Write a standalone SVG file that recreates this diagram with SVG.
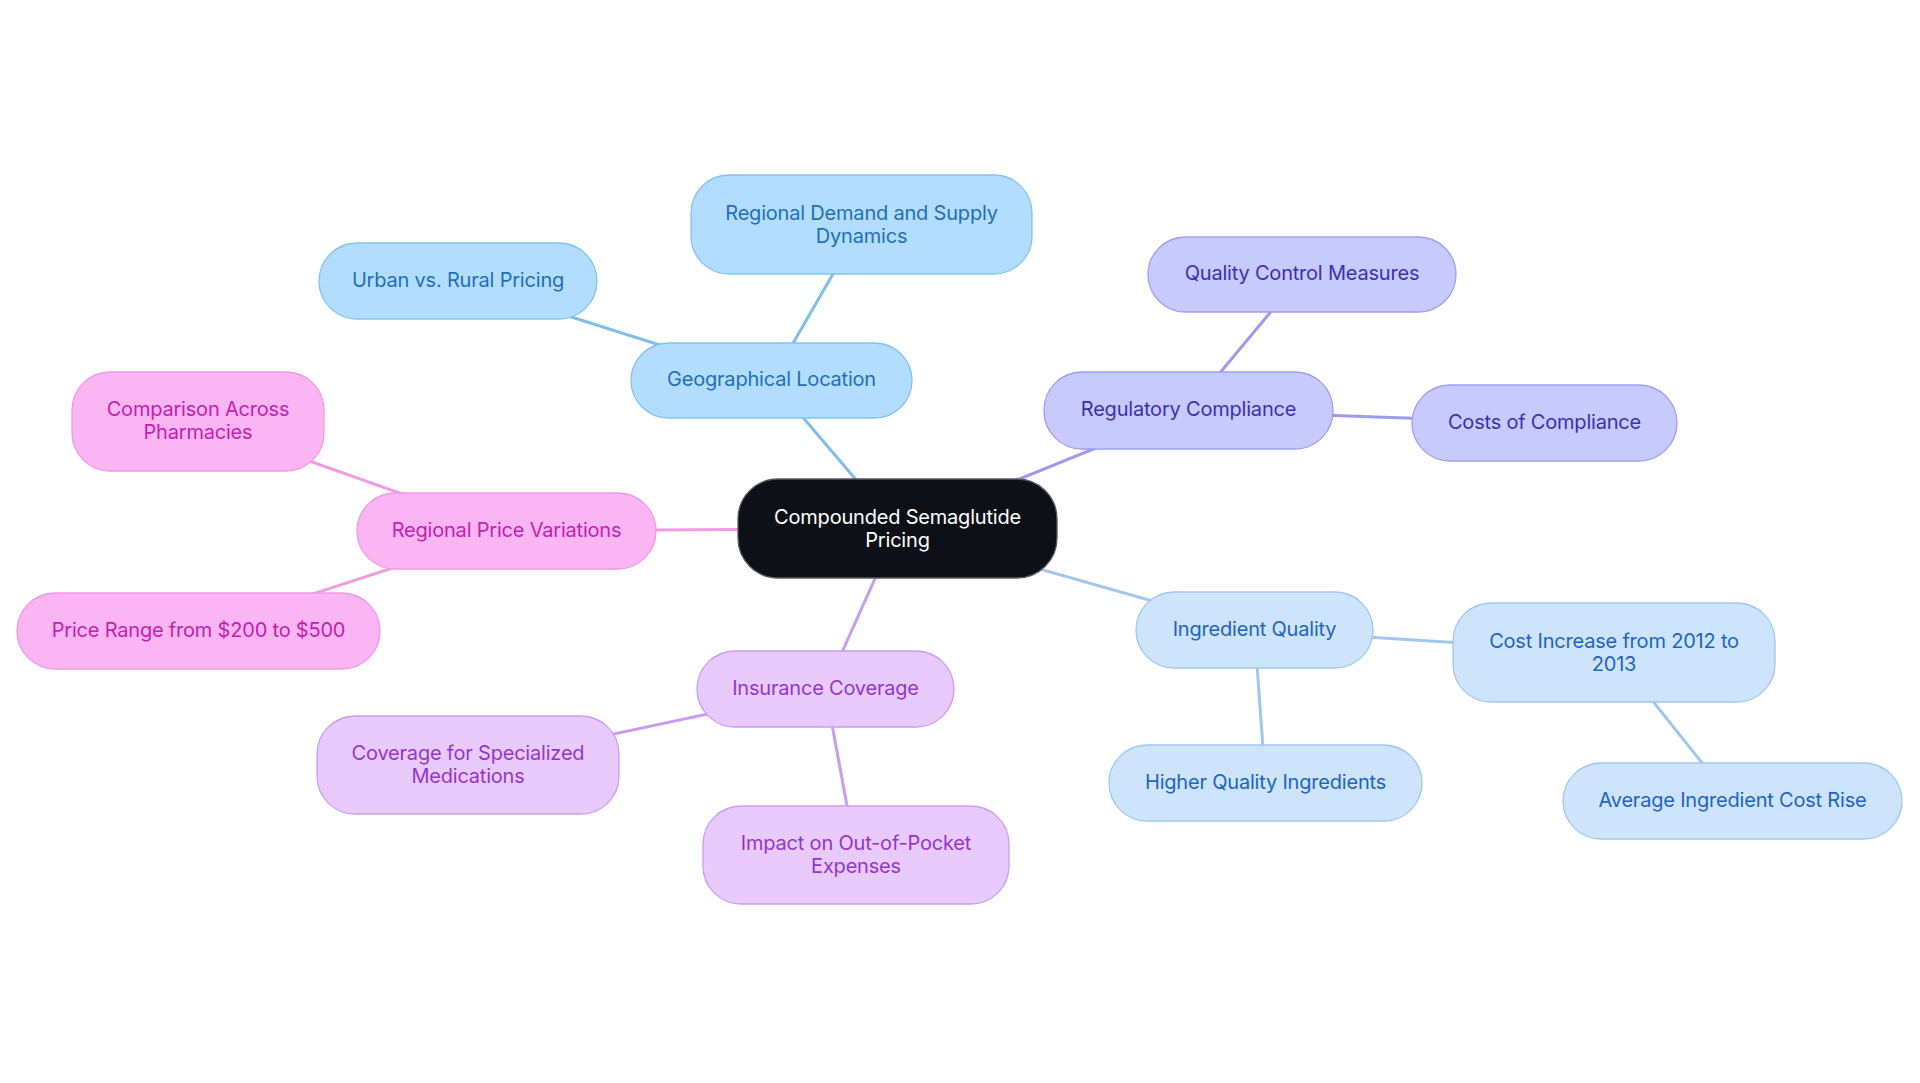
<svg xmlns="http://www.w3.org/2000/svg" width="1920" height="1083" viewBox="0 0 1920 1083">
<style>
text{font-family:Inter,"Liberation Sans",sans-serif;font-size:20px;text-anchor:middle;letter-spacing:-0.2px}
.n rect{stroke-width:1.3}
.root rect{fill:#0d1117;stroke:#55595f}
.root text{fill:#ffffff}
.blue rect{fill:#b3ddfc;stroke:#84c2ee}
.blue text{fill:#1f70b6}
.purple rect{fill:#c8c9fc;stroke:#9e9ef0}
.purple text{fill:#3a31b2}
.pink rect{fill:#fbb5f3;stroke:#f099e3}
.pink text{fill:#c420b2}
.lav rect{fill:#e8cafc;stroke:#cb9cf0}
.lav text{fill:#9536c9}
.lb rect{fill:#cde4fb;stroke:#a2c6ef}
.lb text{fill:#1d65bf}
#edges line{stroke-width:3;stroke-linecap:round}
.eb{stroke:#80bde9}
.ep{stroke:#9e9bea}
.ek{stroke:#f09ce2}
.el{stroke:#c99cee}
.ec{stroke:#a2c6ee}
</style>
<rect width="1920" height="1083" fill="#ffffff"/>
<g id="edges">
<line class="eb" x1="897.5" y1="528.5" x2="771.5" y2="380.5"/>
<line class="eb" x1="771.5" y1="380.5" x2="861.5" y2="224.5"/>
<line class="eb" x1="771.5" y1="380.5" x2="458" y2="281"/>
<line class="ep" x1="897.5" y1="528.5" x2="1188.5" y2="410.5"/>
<line class="ep" x1="1188.5" y1="410.5" x2="1302" y2="274.5"/>
<line class="ep" x1="1188.5" y1="410.5" x2="1544.5" y2="423"/>
<line class="ek" x1="897.5" y1="528.5" x2="506.5" y2="531"/>
<line class="ek" x1="506.5" y1="531" x2="198" y2="421.5"/>
<line class="ek" x1="506.5" y1="531" x2="198.5" y2="631"/>
<line class="el" x1="897.5" y1="528.5" x2="825.5" y2="689"/>
<line class="el" x1="825.5" y1="689" x2="468" y2="765"/>
<line class="el" x1="825.5" y1="689" x2="856" y2="855"/>
<line class="ec" x1="897.5" y1="528.5" x2="1254.5" y2="630"/>
<line class="ec" x1="1254.5" y1="630" x2="1614" y2="652.5"/>
<line class="ec" x1="1254.5" y1="630" x2="1265.5" y2="783"/>
<line class="ec" x1="1614" y1="652.5" x2="1732.5" y2="801"/>
</g>
<g id="root" class="n root">
<rect x="738" y="479" width="319" height="99" rx="40"/>
<text x="897.5" y="524">Compounded Semaglutide</text>
<text x="897.5" y="547">Pricing</text>
</g>
<g id="geo" class="n blue">
<rect x="631" y="343" width="281" height="75" rx="37.5"/>
<text x="771.5" y="386">Geographical Location</text>
</g>
<g id="demand" class="n blue">
<rect x="691" y="175" width="341" height="99" rx="38"/>
<text x="861.5" y="220">Regional Demand and Supply</text>
<text x="861.5" y="243">Dynamics</text>
</g>
<g id="urban" class="n blue">
<rect x="319" y="243" width="278" height="76" rx="38"/>
<text x="458" y="286.5">Urban vs. Rural Pricing</text>
</g>
<g id="reg" class="n purple">
<rect x="1044" y="372" width="289" height="77" rx="38"/>
<text x="1188.5" y="416">Regulatory Compliance</text>
</g>
<g id="qc" class="n purple">
<rect x="1148" y="237" width="308" height="75" rx="37.5"/>
<text x="1302" y="280">Quality Control Measures</text>
</g>
<g id="coc" class="n purple">
<rect x="1412" y="385" width="265" height="76" rx="38"/>
<text x="1544.5" y="428.5">Costs of Compliance</text>
</g>
<g id="rpv" class="n pink">
<rect x="357" y="493" width="299" height="76" rx="38"/>
<text x="506.5" y="536.5">Regional Price Variations</text>
</g>
<g id="cap" class="n pink">
<rect x="72" y="372" width="252" height="99" rx="38"/>
<text x="198" y="416">Comparison Across</text>
<text x="198" y="439">Pharmacies</text>
</g>
<g id="pr" class="n pink">
<rect x="17" y="593" width="363" height="76" rx="38"/>
<text x="198.5" y="636.5">Price Range from $200 to $500</text>
</g>
<g id="ins" class="n lav">
<rect x="697" y="651" width="257" height="76" rx="38"/>
<text x="825.5" y="694.5">Insurance Coverage</text>
</g>
<g id="cov" class="n lav">
<rect x="317" y="716" width="302" height="98" rx="38"/>
<text x="468" y="760">Coverage for Specialized</text>
<text x="468" y="783">Medications</text>
</g>
<g id="imp" class="n lav">
<rect x="703" y="806" width="306" height="98" rx="38"/>
<text x="856" y="850">Impact on Out-of-Pocket</text>
<text x="856" y="873">Expenses</text>
</g>
<g id="iq" class="n lb">
<rect x="1136" y="592" width="237" height="76" rx="38"/>
<text x="1254.5" y="635.5">Ingredient Quality</text>
</g>
<g id="ci" class="n lb">
<rect x="1453" y="603" width="322" height="99" rx="38"/>
<text x="1614" y="647.5">Cost Increase from 2012 to</text>
<text x="1614" y="670.5">2013</text>
</g>
<g id="hq" class="n lb">
<rect x="1109" y="745" width="313" height="76" rx="38"/>
<text x="1265.5" y="788.5">Higher Quality Ingredients</text>
</g>
<g id="avg" class="n lb">
<rect x="1563" y="763" width="339" height="76" rx="38"/>
<text x="1732.5" y="806.5">Average Ingredient Cost Rise</text>
</g>
</svg>
